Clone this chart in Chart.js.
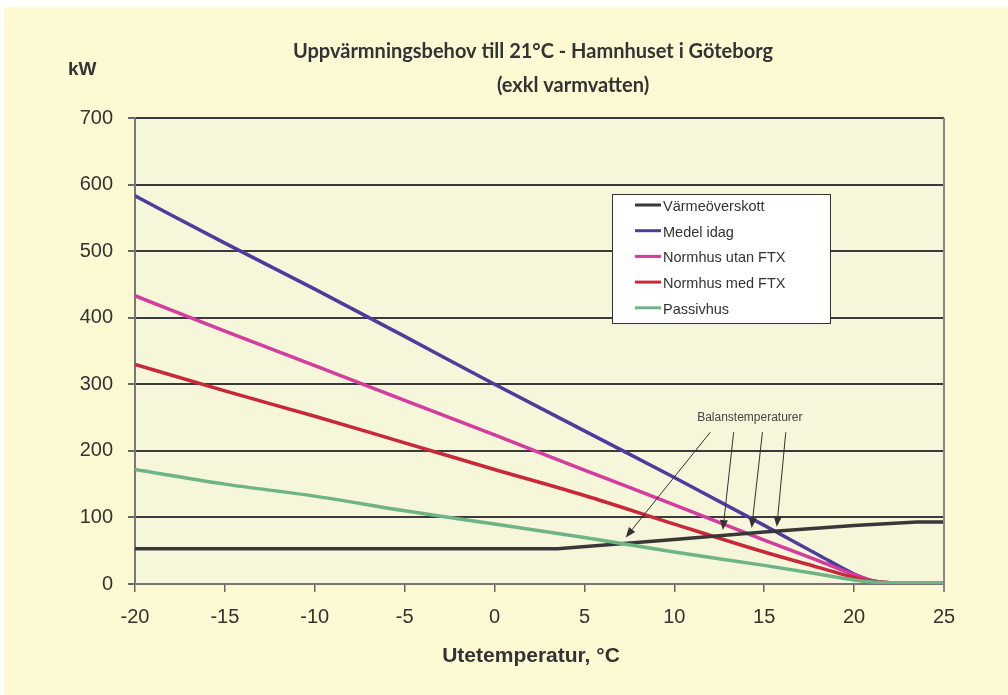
<!DOCTYPE html>
<html>
<head>
<meta charset="utf-8">
<script src="https://cdn.jsdelivr.net/npm/chart.js@4.4.1/dist/chart.umd.min.js"></script>
<style>
  html, body { margin: 0; padding: 0; background: #ffffff; }
  #wrap { position: absolute; left: 0; top: 0; width: 1008px; height: 695px; }
</style>
</head>
<body>
<div id="wrap"><canvas id="heatChart" width="1008" height="695"></canvas></div>
<script>
// outdoor temperatures (°C) used for the building curves
const temps = [-20, -15, -10, -5, 0, 5, 10, 15, 18, 20, 21, 22, 25];
const medelIdag = [583, 512, 443, 372, 300, 230, 160, 88, 44, 15, 5, 2, 2];
const normhusUtanFtx = [433, 380, 328, 276, 224, 171, 119, 66, 35, 14, 5, 2, 2];
const normhusMedFtx = [330, 290, 252, 212, 172, 133, 90, 48, 25, 10, 4, 2, 2];
const passivhus = [172, 150, 132, 110, 90, 70, 48, 28, 15, 6, 3, 2, 2];

// surplus heat curve has its own break points
const tempsOverskott = [-20, 3.5, 10, 15, 20, 23.5, 25];
const varmeOverskott = [53, 53, 67, 78, 88, 93, 93];

const seriesNames = ['Värmeöverskott', 'Medel idag', 'Normhus utan FTX', 'Normhus med FTX', 'Passivhus'];
const seriesColors = ['#383838', '#4e3c9c', '#d53c9d', '#c8283a', '#6fb487'];

const yTicks = [0, 100, 200, 300, 400, 500, 600, 700];
const xTicks = [-20, -15, -10, -5, 0, 5, 10, 15, 20, 25];

// balance temperature arrows: start (x, y) -> tip (x, y) in data units
const arrowStartT = [12.0, 13.3, 14.9, 16.2];
const arrowStartV = [228, 228, 228, 228];
const arrowTipT = [7.3, 12.7, 14.3, 15.7];
const arrowTipV = [70, 81, 84, 86];
const arrowLabel = 'Balanstemperaturer';

function pts(xs, ys) {
    return xs.map(function(x, i) { return { x: x, y: ys[i] }; });
}

const seriesData = [
    pts(tempsOverskott, varmeOverskott),
    pts(temps, medelIdag),
    pts(temps, normhusUtanFtx),
    pts(temps, normhusMedFtx),
    pts(temps, passivhus)
];

const drawOrder = [2, 5, 4, 3, 1];

const backgroundPlugin = {
    id: 'pageBackground',
    beforeDraw: function(chart) {
        const c = chart.ctx;
        const a = chart.chartArea;
        c.save();
        c.fillStyle = '#fdf9d3';
        c.fillRect(4, 7, chart.width - 4, chart.height - 7);
        c.fillStyle = '#f6f6da';
        c.fillRect(a.left, a.top, a.right - a.left, a.bottom - a.top);
        c.restore();
    }
};

const textPlugin = {
    id: 'extraText',
    afterDraw: function(chart) {
        const c = chart.ctx;
        const xs = chart.scales.x;
        const ys = chart.scales.y;
        c.save();
        c.fillStyle = '#333333';
        c.textBaseline = 'middle';

        // titles
        c.font = 'bold 20px Lato, "Open Sans", sans-serif';
        c.textAlign = 'center';
        c.fillText('Uppvärmningsbehov till 21°C - Hamnhuset i Göteborg', 533, 52);
        c.fillText('(exkl varmvatten)', 573, 86);

        c.font = 'bold 19px "Liberation Sans", Arial, sans-serif';
        c.textAlign = 'left';
        c.fillText('kW', 68, 70);
        c.font = 'bold 21px "Liberation Sans", Arial, sans-serif';
        c.textAlign = 'center';
        c.fillText('Utetemperatur, °C', 531, 656);

        // legend box
        const lx = 612, ly = 194, lw = 218, lh = 129;
        c.fillStyle = '#ffffff';
        c.fillRect(lx, ly, lw, lh);
        c.strokeStyle = '#333333';
        c.lineWidth = 1;
        c.strokeRect(lx + 0.5, ly + 0.5, lw, lh);
        c.font = '14.5px "Liberation Sans", Arial, sans-serif';
        c.textAlign = 'left';
        seriesNames.forEach(function(name, i) {
            const ry = ly + 11 + i * 25.7;
            c.strokeStyle = seriesColors[i];
            c.lineWidth = 3;
            c.beginPath();
            c.moveTo(lx + 23, ry);
            c.lineTo(lx + 49, ry);
            c.stroke();
            c.fillStyle = '#333333';
            c.fillText(name, lx + 51, ry + 2);
        });

        // annotation arrows
        c.font = '12px "Liberation Sans", Arial, sans-serif';
        c.fillStyle = '#444444';
        c.textAlign = 'center';
        c.fillText(arrowLabel, xs.getPixelForValue(14.2), ys.getPixelForValue(250));
        c.strokeStyle = '#333333';
        c.fillStyle = '#333333';
        c.lineWidth = 1;
        arrowStartT.forEach(function(t, i) {
            const x0 = xs.getPixelForValue(t), y0 = ys.getPixelForValue(arrowStartV[i]);
            const x1 = xs.getPixelForValue(arrowTipT[i]), y1 = ys.getPixelForValue(arrowTipV[i]);
            const ang = Math.atan2(y1 - y0, x1 - x0);
            const hl = 10, hw = 4;
            const bx = x1 - hl * Math.cos(ang), by = y1 - hl * Math.sin(ang);
            c.beginPath();
            c.moveTo(x0, y0);
            c.lineTo(bx, by);
            c.stroke();
            c.beginPath();
            c.moveTo(x1, y1);
            c.lineTo(bx + hw * Math.sin(ang), by - hw * Math.cos(ang));
            c.lineTo(bx - hw * Math.sin(ang), by + hw * Math.cos(ang));
            c.closePath();
            c.fill();
        });
        c.restore();
    }
};

document.addEventListener('DOMContentLoaded', function() {
    const ctx = document.getElementById('heatChart');

    new Chart(ctx.getContext('2d'), {
        type: 'line',
        data: {
            datasets: seriesNames.map(function(name, i) {
                return {
                    label: name,
                    data: seriesData[i],
                    borderColor: seriesColors[i],
                    borderWidth: 3.5,
                    pointRadius: 0,
                    fill: false,
                    cubicInterpolationMode: i === 0 ? 'default' : 'monotone',
                    tension: 0,
                    order: drawOrder[i]
                };
            })
        },
        options: {
            responsive: false,
            animation: false,
            layout: { padding: { top: 118, right: 64, left: 0, bottom: 0 } },
            plugins: {
                legend: { display: false },
                tooltip: { enabled: false }
            },
            scales: {
                x: {
                    type: 'linear',
                    min: -20,
                    max: 25,
                    afterBuildTicks: function(scale) {
                        scale.ticks = xTicks.map(function(v) { return { value: v }; });
                    },
                    afterFit: function(scale) { scale.height = 111; },
                    grid: {
                        drawOnChartArea: false,
                        drawTicks: true,
                        tickLength: 8,
                        color: '#666666',
                        lineWidth: 1.5
                    },
                    border: { color: '#777777', width: 2 },
                    ticks: {
                        padding: 13,
                        color: '#333333',
                        font: { family: '"Liberation Sans", Arial, sans-serif', size: 20 }
                    }
                },
                y: {
                    min: 0,
                    max: 700,
                    afterBuildTicks: function(scale) {
                        scale.ticks = yTicks.map(function(v) { return { value: v }; });
                    },
                    afterFit: function(scale) { scale.width = 135; },
                    grid: {
                        drawTicks: true,
                        tickLength: 7,
                        color: function(c) { return c.tick && c.tick.value === 0 ? 'rgba(0,0,0,0)' : '#3a3a3a'; },
                        tickColor: '#666666',
                        lineWidth: 2
                    },
                    border: { color: '#777777', width: 2 },
                    ticks: {
                        padding: 15,
                        color: '#333333',
                        font: { family: '"Liberation Sans", Arial, sans-serif', size: 20 }
                    }
                }
            }
        },
        plugins: [backgroundPlugin, textPlugin, {
            id: 'rightBorder',
            afterDatasetsDraw: function(chart) {
                const a = chart.chartArea;
                const c = chart.ctx;
                c.save();
                c.strokeStyle = '#888888';
                c.lineWidth = 2;
                c.beginPath();
                c.moveTo(a.right, a.top);
                c.lineTo(a.right, a.bottom + 8);
                c.stroke();
                c.restore();
            }
        }]
    });
});
</script>
</body>
</html>
